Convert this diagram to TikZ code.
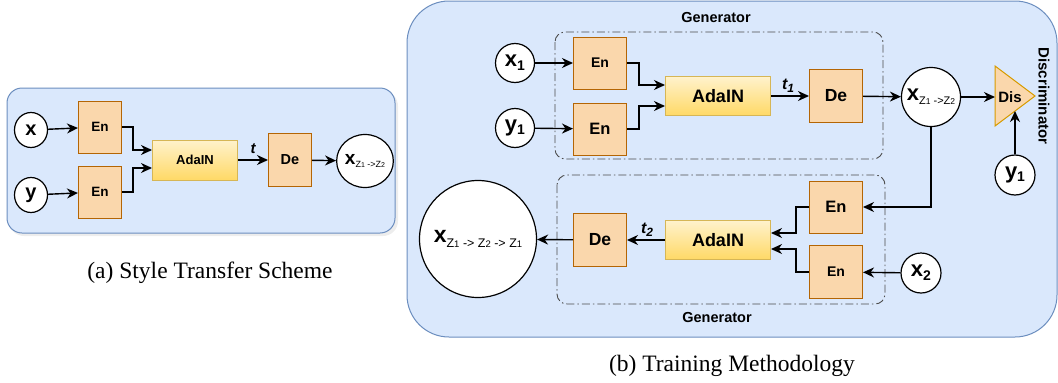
\documentclass[tikz,border=0pt]{standalone}
\usepackage{fontspec}
\setmainfont{Liberation Serif}
\newfontfamily\dsans{Liberation Sans}
\usetikzlibrary{arrows.meta,shapes.geometric}
\definecolor{pfill}{HTML}{DAE8FC}
\definecolor{pdraw}{HTML}{6C8EBF}
\definecolor{efill}{HTML}{FAD7AC}
\definecolor{edraw}{HTML}{B46504}
\definecolor{atop}{HTML}{FFF2CC}
\definecolor{abot}{HTML}{FFD966}
\definecolor{adraw}{HTML}{D6B656}
\definecolor{tdraw}{HTML}{D79B00}
\newcommand{\fsz}[1]{\fontsize{#1}{#1}\selectfont}
% x with lowered subscript: size of x, size of sub, drop, sub text
\newcommand{\xsub}[4]{{\fsz{#1}\bfseries x}\raisebox{-#3pt}{\fsz{#2}\mdseries #4}}
\newcommand{\bsub}[4]{{\fsz{#1}\bfseries #4}\raisebox{-#3pt}{\fsz{#2}\bfseries 1}}
\newcommand{\bsubb}[4]{{\fsz{#1}\bfseries #4}\raisebox{-#3pt}{\fsz{#2}\bfseries 2}}
\begin{document}
\begin{tikzpicture}[x=1pt,y=-1pt,
  panel/.style={fill=pfill,draw=pdraw,line width=1pt},
  encbox/.style={draw=edraw,fill=efill,line width=1pt,inner sep=0pt,font=\dsans\bfseries},
  adabox/.style={draw=adraw,top color=atop,bottom color=abot,line width=1pt,inner sep=0pt,font=\dsans\bfseries},
  circ/.style={circle,draw,fill=white,line width=1.2pt,inner sep=0pt,font=\dsans\bfseries},
  ell/.style={ellipse,draw,fill=white,line width=1.2pt,inner sep=0pt,font=\dsans\bfseries},
  arr/.style={-{Stealth[length=11pt,width=10pt,inset=3.5pt]},line width=1.4pt},
  gen/.style={draw=black!70,line width=0.9pt,dash pattern=on 8pt off 3pt on 1.5pt off 3pt,rounded corners=10pt},
  lbl/.style={font=\dsans\bfseries,inner sep=0pt},
  captext/.style={font=\fsz{23.5},inner sep=0pt}
]
\useasboundingbox (0,0) rectangle (1058,383);

% ---------- panel (a) ----------
\fill[black!7,rounded corners=15pt] (9,91) rectangle (398,236);
\draw[panel,rounded corners=15pt] (7,88) rectangle (395,233);

\node[ell,minimum width=33pt,minimum height=35pt] (ax) at (31,130) {\fsz{20}x};
\node[ell,minimum width=33pt,minimum height=35pt] (ay) at (31,195) {\fsz{20}y};
\node[encbox,minimum width=43pt,minimum height=52pt] (aen1) at (100,127) {\fsz{13.5}En};
\node[encbox,minimum width=43pt,minimum height=52pt] (aen2) at (100,192) {\fsz{13.5}En};
\node[adabox,minimum width=85pt,minimum height=40pt] (aada) at (195,160) {\fsz{13}AdaIN};
\node[encbox,minimum width=43pt,minimum height=53pt] (ade) at (290,160) {\fsz{14.5}De};
\node[ell,minimum width=44pt,minimum height=53pt] (aout) at (365,161) {\xsub{19}{9}{3.5}{Z{\fsz{7}1} ->Z{\fsz{7}2}}};
\node[lbl,font=\dsans\bfseries\itshape\fsz{15}] (at) at (253,149) {t};

\draw[arr] (ax) -- (aen1);
\draw[arr] (ay) -- (aen2);
\draw[arr] (aen1.east) -- ++(11,0) |- ([yshift=10pt]aada.west);
\draw[arr] (aen2.east) -- ++(11,0) |- ([yshift=-8pt]aada.west);
\draw[arr] (aada) -- (ade);
\draw[arr] (ade) -- (aout);

% ---------- panel (b) ----------
\draw[panel,rounded corners=42pt] (407,1) rectangle (1057,337);
\draw[gen] (555,32) rectangle (883,159);
\draw[gen] (557,175) rectangle (885,304);
\node[lbl,font=\dsans\bfseries\fsz{14.5}] (g1) at (716,18) {Generator};
\node[lbl,font=\dsans\bfseries\fsz{14.5}] (g2) at (717,318) {Generator};
\node[lbl,font=\dsans\bfseries\fsz{15},rotate=-90] (disc) at (1044,96) {Discriminator};

% top generator
\node[circ,minimum size=39pt] (x1) at (515,63) {\bsub{22}{14}{4}{x}};
\node[circ,minimum size=39pt] (y1) at (515,128) {\bsub{22}{14}{3}{y}};
\node[encbox,minimum width=53pt,minimum height=52pt] (en1) at (600,63) {\fsz{14}En};
\node[encbox,minimum width=53pt,minimum height=52pt] (en2) at (600,129) {\fsz{16.5}En};
\node[adabox,minimum width=105pt,minimum height=39pt] (ada1) at (718,96) {\fsz{18}AdaIN};
\node[encbox,minimum width=53pt,minimum height=53pt] (de1) at (836,96) {\fsz{17.5}De};
\node[circ,minimum size=59pt] (xz) at (931,97) {\xsub{22}{11}{4}{Z{\fsz{8.5}1} ->Z{\fsz{8.5}2}}};
\node[lbl,font=\dsans\bfseries\itshape\fsz{16}] (t1) at (788,86) {t\raisebox{-3pt}{\fsz{12}1}};

% discriminator
\draw[draw=tdraw,fill=efill,line width=1pt] (995,66) -- (1035,96) -- (995,126) -- cycle;
\node[lbl,font=\dsans\bfseries\fsz{15}] (dis) at (1010,97) {Dis};
\coordinate (disL) at (995,97);
\coordinate (disB) at (1015,111);
\node[circ,minimum size=40pt] (y1r) at (1015,175) {\bsub{22}{14}{3}{y}};

% bottom generator
\node[encbox,minimum width=53pt,minimum height=52pt] (en3) at (836,207) {\fsz{16.5}En};
\node[encbox,minimum width=53pt,minimum height=53pt] (en4) at (836,272) {\fsz{14}En};
\node[adabox,minimum width=105pt,minimum height=39pt] (ada2) at (718,240) {\fsz{18}AdaIN};
\node[encbox,minimum width=53pt,minimum height=53pt] (de2) at (600,240) {\fsz{17.5}De};
\node[circ,minimum size=117pt] (big) at (478,239) {\xsub{23}{12.5}{4.5}{Z{\fsz{9.5}1} -> Z{\fsz{9.5}2} -> Z{\fsz{9.5}1}}};
\node[circ,minimum size=40pt] (x2) at (921,273) {\bsubb{22}{14}{4}{x}};
\node[lbl,font=\dsans\bfseries\itshape\fsz{16}] (t2) at (647,230) {t\raisebox{-3pt}{\fsz{12}2}};

\draw[arr] (x1) -- (en1);
\draw[arr] (y1) -- (en2);
\draw[arr] (en1.east) -- ++(12,0) |- ([yshift=11pt]ada1.west);
\draw[arr] (en2.east) -- ++(12,0) |- ([yshift=-10pt]ada1.west);
\draw[arr] (ada1) -- (de1);
\draw[arr] (de1) -- (xz);
\draw[arr] (xz) -- (disL);
\draw[arr] (y1r) -- (disB);
\draw[arr] (xz.south) |- (en3.east);
\draw[arr] (x2) -- (en4);
\draw[arr] (en3.west) -- ++(-13,0) |- ([yshift=7pt]ada2.east);
\draw[arr] (en4.west) -- ++(-13,0) |- ([yshift=-9pt]ada2.east);
\draw[arr] (ada2) -- (de2);
\draw[arr] (de2) -- (big);

% captions
\node[captext] (capa) at (210,273) {(a) Style Transfer Scheme};
\node[captext] (capb) at (732,366) {(b) Training Methodology};
\end{tikzpicture}
\end{document}
